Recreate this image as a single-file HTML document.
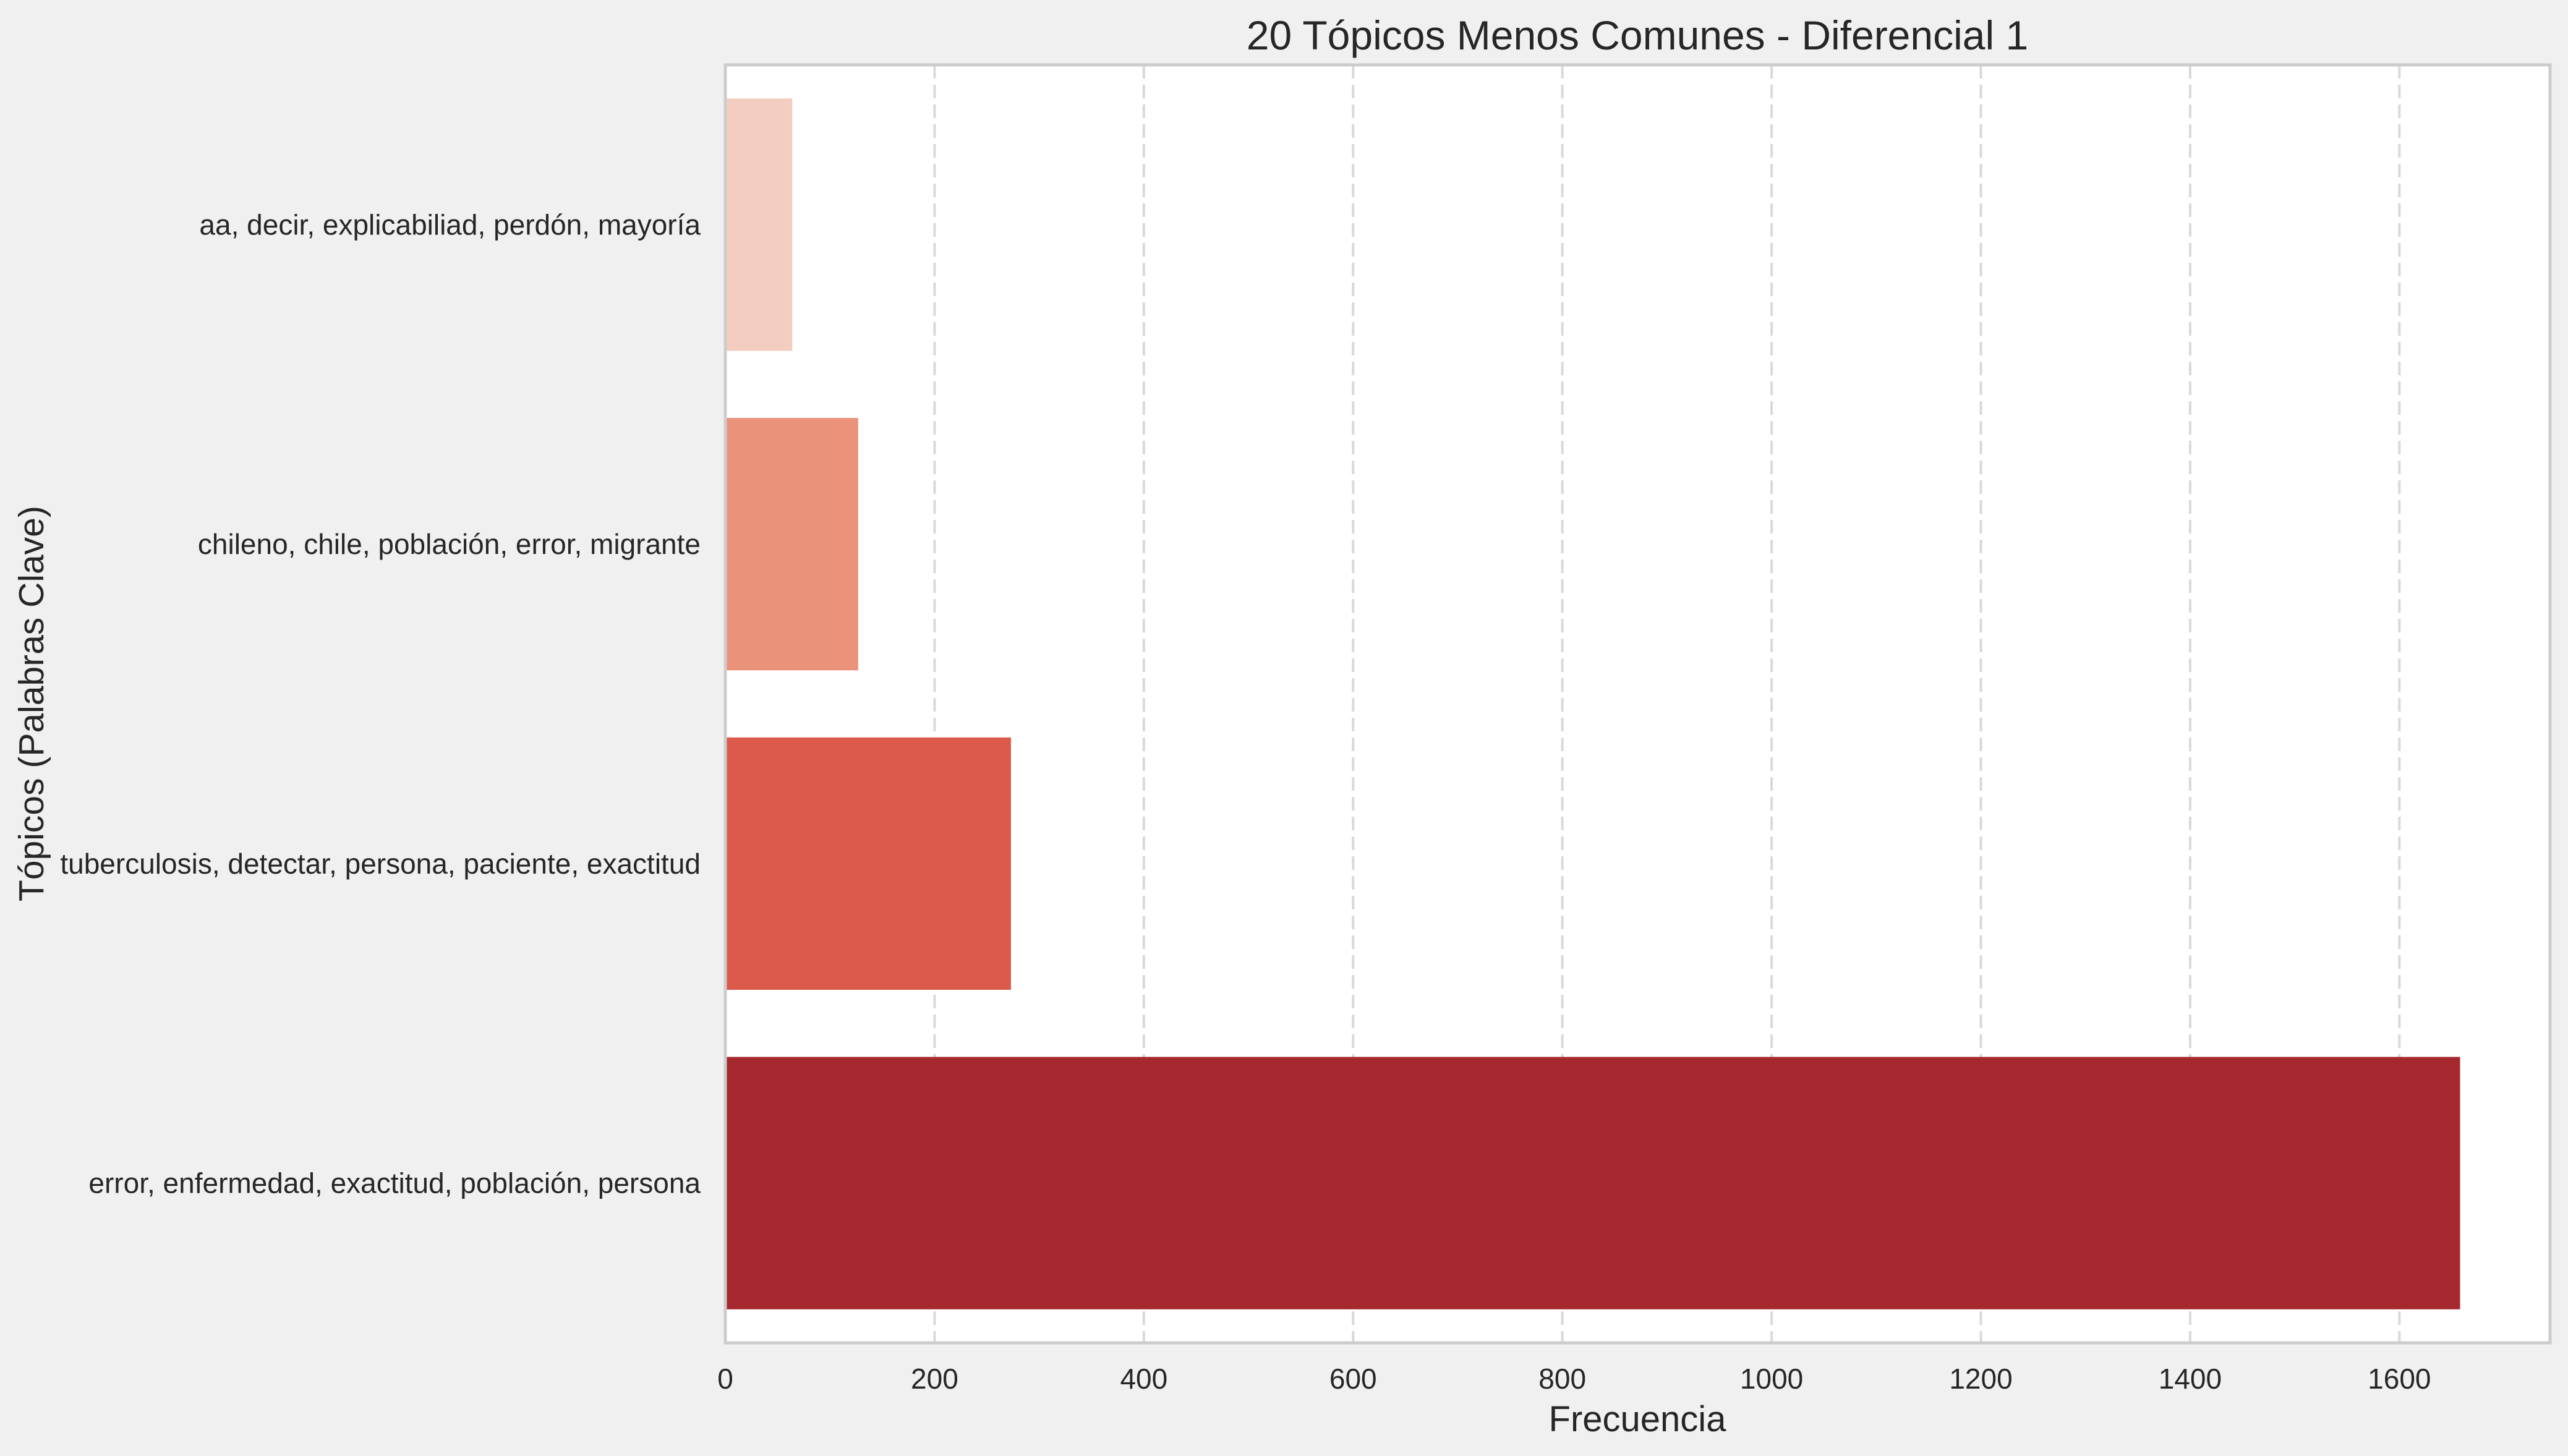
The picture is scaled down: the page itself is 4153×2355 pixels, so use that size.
<!DOCTYPE html>
<html><head><meta charset="utf-8"><style>
html,body{margin:0;padding:0;background:#f0f0f0;}
svg{display:block;font-family:"Liberation Sans",Arial,sans-serif;}
</style></head><body>
<svg id="chart" width="4153" height="2355" viewBox="0 0 4153 2355" xmlns="http://www.w3.org/2000/svg">
<rect x="0" y="0" width="4153" height="2355" fill="#f0f0f0"/>
<rect x="1173" y="105" width="2951" height="2067" fill="#ffffff"/>
<g id="grid"></g>
<g id="bars"></g>
<rect x="1173" y="105" width="2951" height="2067" fill="none" stroke="#cccccc" stroke-width="5"/>
<g id="xticks"></g>
<g id="yticks"></g>
<text x="2648" y="80" font-size="66" text-anchor="middle" fill="#262626">20 Tópicos Menos Comunes - Diferencial 1</text>
<text x="2648" y="2315" font-size="58" text-anchor="middle" fill="#262626">Frecuencia</text>
<text transform="translate(70,1138) rotate(-90)" font-size="57" text-anchor="middle" fill="#262626">Tópicos (Palabras Clave)</text>
</svg>
<script>
const categories = ["aa, decir, explicabiliad, perdón, mayoría","chileno, chile, población, error, migrante","tuberculosis, detectar, persona, paciente, exactitud","error, enfermedad, exactitud, población, persona"];
const values = [64, 127, 273, 1658];
const colors = ["#f3cdc0","#ea937a","#dc5a4b","#a5282f"];
const xTicks = [0,200,400,600,800,1000,1200,1400,1600];

const NS="http://www.w3.org/2000/svg";
const L=1173,R=4124,T=105,B=2172,XMAX=1744;
const xs=v=>L+v*(R-L)/XMAX;
const band=(B-T)/categories.length;
const yc=i=>T+band*(i+0.5);
function mk(tag,attrs,parent){const e=document.createElementNS(NS,tag);for(const k in attrs)e.setAttribute(k,attrs[k]);document.getElementById(parent).appendChild(e);return e;}
xTicks.forEach(t=>{
  if(t>0){const g=mk('line',{x1:xs(t),x2:xs(t),y1:T,y2:B,stroke:'#d9d9d9','stroke-width':4,'stroke-dasharray':'22,10'},'grid');
  
  }
  const tx=mk('text',{x:xs(t),y:2246,'font-size':46,'text-anchor':'middle',fill:'#262626'},'xticks');
  
  
  tx.textContent=t;
});
categories.forEach((c,i)=>{
  const h=band*0.79;
  const r=mk('rect',{x:L,y:yc(i)-h/2,width:xs(values[i])-L,height:h,fill:colors[i]},'bars');
  
  
  const t=mk('text',{x:1133,y:yc(i)+16,'font-size':46,'text-anchor':'end',fill:'#262626'},'yticks');
  
  
  t.textContent=c;
});
</script>
</body></html>
